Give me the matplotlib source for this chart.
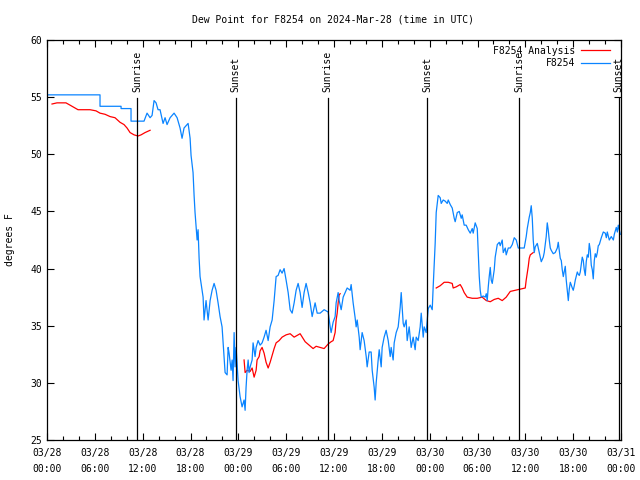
import numpy as np
import pandas as pd
import matplotlib
matplotlib.use("Agg")
import matplotlib.pyplot as plt
import matplotlib.dates as mdates

plt.rcParams['font.family'] = 'DejaVu Sans Mono'
plt.rcParams['font.size'] = 7

start = pd.Timestamp("2024-03-28 00:00")

# observed dew point, hours after 03/28 00:00 UTC
obs_hours = [0.0, 6.65, 6.65, 9.29, 9.29, 10.54, 10.54, 12.17, 12.55, 12.93, 13.18, 13.43, 13.68, 13.93,
             14.18, 14.56, 14.81, 15.06, 15.44, 15.94, 16.32, 16.69, 16.94, 17.19, 17.70, 17.95, 18.07,
             18.32, 18.45, 18.57, 18.83, 18.95, 19.08, 19.20, 19.58, 19.70, 19.95, 20.21, 20.46, 20.71,
             20.96, 21.21, 21.46, 21.71, 21.96, 22.21, 22.34, 22.59, 22.72, 22.84, 23.09, 23.22, 23.34,
             23.47, 23.59, 23.72, 23.97, 24.22, 24.47, 24.72, 24.85, 24.97, 25.10, 25.23, 25.35, 25.48,
             25.73, 25.85, 26.10, 26.23, 26.48, 26.73, 26.98, 27.23, 27.48, 27.74, 27.99, 28.24, 28.49,
             28.74, 28.99, 29.24, 29.49, 29.74, 29.99, 30.25, 30.50, 30.75, 31.00, 31.25, 31.50, 31.75,
             32.00, 32.25, 32.50, 32.76, 33.01, 33.26, 33.63, 33.89, 34.26, 34.76, 35.27, 35.52, 35.64,
             35.89, 36.14, 36.27, 36.52, 36.65, 36.90, 37.15, 37.40, 37.65, 38.03, 38.15, 38.40, 38.65,
             38.78, 38.91, 39.16, 39.28, 39.53, 39.78, 40.04, 40.16, 40.41, 40.66, 40.79, 41.04, 41.16,
             41.29, 41.54, 41.67, 41.92, 42.04, 42.29, 42.54, 42.80, 43.05, 43.17, 43.42, 43.55, 43.80,
             44.05, 44.30, 44.43, 44.68, 44.80, 45.05, 45.18, 45.43, 45.68, 45.93, 46.18, 46.31, 46.56,
             46.81, 46.94, 47.19, 47.31, 47.56, 47.82, 48.07, 48.32, 48.44, 48.69, 48.82, 48.95, 49.07,
             49.32, 49.45, 49.70, 49.95, 50.20, 50.33, 50.58, 50.83, 51.08, 51.20, 51.46, 51.71, 51.96,
             52.08, 52.33, 52.58, 52.84, 53.09, 53.34, 53.46, 53.71, 53.97, 54.09, 54.22, 54.34, 54.47,
             54.72, 54.97, 55.10, 55.22, 55.35, 55.47, 55.60, 55.72, 55.85, 56.10, 56.22, 56.48, 56.73,
             56.85, 57.10, 57.23, 57.48, 57.60, 57.86, 58.11, 58.36, 58.61, 58.86, 59.11, 59.36, 59.86,
             60.11, 60.24, 60.49, 60.62, 60.74, 60.87, 60.99, 61.12, 61.24, 61.50, 61.62, 61.87, 62.00,
             62.25, 62.37, 62.62, 62.75, 62.87, 63.00, 63.13, 63.25, 63.50, 63.75, 64.01, 64.13, 64.26,
             64.38, 64.51, 64.63, 64.76, 65.01, 65.13, 65.26, 65.39, 65.51, 65.64, 65.89, 66.01, 66.14,
             66.27, 66.52, 66.64, 66.77, 66.89, 67.02, 67.14, 67.27, 67.39, 67.52, 67.64, 67.77, 67.90,
             68.02, 68.15, 68.27, 68.40, 68.52, 68.65, 68.77, 68.90, 69.03, 69.15, 69.28, 69.53, 69.78,
             70.03, 70.16, 70.28, 70.53, 70.78, 71.04, 71.16, 71.41, 71.54, 71.66, 71.91]
obs_dewpt = [55.2, 55.2, 54.2, 54.2, 54.0, 54.0, 52.9, 52.9, 53.6, 53.2, 53.4, 54.7, 54.5, 53.9,
             53.9, 52.7, 53.2, 52.6, 53.2, 53.6, 53.2, 52.3, 51.4, 52.3, 52.7, 51.4, 49.9,
             48.4, 46.4, 44.9, 42.5, 43.4, 40.9, 39.3, 37.5, 35.5, 37.2, 35.5, 37.2, 38.1,
             38.7, 38.1, 37.0, 35.8, 34.9, 32.3, 30.9, 30.7, 33.1, 32.6, 31.1, 32.0, 30.2,
             34.4, 31.4, 33.1, 30.2, 28.8, 27.9, 28.5, 27.6, 29.6, 31.1, 32.0, 30.9, 31.4,
             32.0, 33.5, 32.3, 33.1, 33.7, 33.3, 33.5, 34.0, 34.6, 33.7, 34.9, 35.5, 37.2,
             39.3, 39.4, 39.9, 39.6, 40.0, 39.0, 37.9, 36.4, 36.1, 37.0, 38.1, 38.7, 37.9,
             36.6, 37.9, 38.7, 37.9, 37.0, 35.8, 37.0, 36.1, 36.1, 36.4, 36.2, 34.9, 34.4,
             35.3, 35.8, 37.0, 37.9, 37.2, 36.4, 37.5, 37.9, 38.3, 38.1, 38.6, 37.0, 35.7,
             34.9, 35.5, 34.0, 32.9, 34.4, 33.7, 32.3, 31.4, 32.7, 32.7, 31.1, 29.6, 28.5,
             30.0, 32.0, 32.9, 31.4, 33.1, 34.0, 34.6, 33.7, 32.3, 33.1, 32.0, 33.5, 34.4,
             34.9, 36.6, 37.9, 35.2, 34.9, 35.5, 33.7, 34.9, 33.1, 34.0, 32.9, 34.0, 33.7,
             34.9, 36.1, 34.0, 34.9, 34.4, 36.5, 36.8, 36.4, 38.4, 42.2, 44.9, 45.7, 46.4,
             46.2, 45.7, 46.0, 45.9, 45.7, 46.0, 45.6, 45.3, 44.4, 44.1, 44.9, 45.0, 44.4,
             44.7, 43.8, 43.8, 43.4, 43.1, 43.5, 43.1, 44.0, 43.5, 41.4, 39.3, 38.1, 37.5,
             37.6, 37.5, 37.8, 37.2, 38.4, 39.3, 40.1, 39.0, 38.7, 39.9, 41.0, 42.1, 42.3,
             42.0, 42.5, 41.4, 41.8, 41.2, 41.8, 41.8, 42.1, 42.7, 42.5, 41.8, 41.8, 41.8,
             42.8, 43.5, 44.5, 44.9, 45.5, 44.4, 42.5, 41.4, 41.9, 42.2, 41.8, 41.0, 40.6,
             41.0, 41.4, 42.8, 44.0, 43.4, 42.5, 41.8, 41.6, 41.3, 41.4, 41.8, 42.3, 41.6,
             40.9, 40.7, 39.9, 39.3, 40.2, 39.0, 38.1, 37.2, 38.2, 38.8, 38.3, 38.1, 38.5,
             39.0, 39.7, 39.5, 39.4, 39.7, 40.4, 41.0, 40.7, 39.9, 39.4, 40.6, 41.2, 41.0,
             42.2, 41.6, 40.3, 39.9, 39.1, 40.7, 41.3, 41.0, 41.4, 42.0, 42.1, 42.7, 43.2,
             43.1, 42.7, 43.2, 42.5, 42.8, 42.5, 43.0, 43.6, 43.2, 43.8, 43.0]

# analysis dew point (None = no analysis)
ana_hours = [0.63, 1.25, 2.38, 2.89, 3.39, 3.89, 4.77, 5.40, 6.15, 6.65, 7.28, 7.91, 8.53, 9.16,
             9.66, 10.04, 10.42, 10.92, 11.42, 11.80, 12.30, 12.93, 18.0,
             24.72, 24.85, 25.10, 25.48, 25.73, 25.98, 26.23, 26.35, 26.61, 26.73, 26.98, 27.23,
             27.48, 27.74, 27.99, 28.24, 28.49, 28.74, 29.12, 29.49, 29.99, 30.50, 31.00, 31.50,
             31.75, 32.38, 32.88, 33.38, 33.76, 34.26, 34.76, 35.27, 35.64, 35.89, 36.14, 36.27,
             36.40, 36.52, 36.65, 36.77, 42.0,
             48.82, 49.32, 49.82, 50.33, 50.83, 50.95, 51.33, 51.83, 52.08, 52.33, 52.71, 53.34,
             53.97, 54.59, 55.10, 55.60, 56.10, 56.60, 57.10, 57.60, 58.11, 58.73, 59.36, 59.99,
             60.11, 60.24, 60.37, 60.49, 60.62, 60.99]
ana_dewpt = [54.4, 54.5, 54.5, 54.3, 54.1, 53.9, 53.9, 53.9, 53.8, 53.6, 53.5, 53.3, 53.2, 52.8,
             52.6, 52.3, 51.9, 51.7, 51.6, 51.7, 51.9, 52.1, None,
             32.0, 30.9, 31.1, 31.0, 31.3, 30.5, 31.1, 32.0, 32.3, 32.8, 33.1, 32.6,
             31.8, 31.3, 31.8, 32.4, 33.0, 33.5, 33.7, 34.0, 34.2, 34.3, 34.0, 34.2,
             34.3, 33.6, 33.3, 33.0, 33.2, 33.1, 33.0, 33.4, 33.6, 33.7, 34.4, 35.5,
             36.1, 37.0, 37.7, 37.8, None,
             38.3, 38.5, 38.8, 38.8, 38.7, 38.3, 38.4, 38.6, 38.3, 37.9, 37.5, 37.4,
             37.4, 37.5, 37.2, 37.1, 37.3, 37.4, 37.2, 37.5, 38.0, 38.1, 38.2, 38.3,
             39.0, 39.6, 40.2, 40.9, 41.2, 41.4]

sun_hours = [11.28, 23.65, 35.22, 47.70, 59.25, 71.70]
sun_labels = ["Sunrise", "Sunset", "Sunrise", "Sunset", "Sunrise", "Sunset"]

obs_t = start + pd.to_timedelta(obs_hours, unit="h")
ana_t = start + pd.to_timedelta(ana_hours, unit="h")
ana_v = np.array([np.nan if v is None else v for v in ana_dewpt], dtype=float)

fig = plt.figure(figsize=(6.4, 4.8), dpi=100)
ax = fig.add_axes([47 / 640, 40 / 480, 574 / 640, 400 / 480])

ax.plot(ana_t, ana_v, color="#ff0000", lw=0.9, label="F8254 Analysis")
ax.plot(obs_t, obs_dewpt, color="#0a84ff", lw=0.9, label="F8254")

for h, lab in zip(sun_hours, sun_labels):
    t = start + pd.Timedelta(hours=h)
    ax.axvline(t, ymin=0, ymax=0.855, color="black", lw=0.9)
    ax.text(t, 0.87, lab, transform=ax.get_xaxis_transform(), rotation=90,
            ha="center", va="bottom")

ax.set_xlim(start, start + pd.Timedelta(hours=72))
ax.set_ylim(25, 60)
ax.set_yticks(range(25, 61, 5))
ax.xaxis.set_major_locator(mdates.HourLocator(byhour=range(0, 24, 6)))
ax.xaxis.set_minor_locator(mdates.HourLocator(byhour=range(0, 24, 2)))
ax.xaxis.set_major_formatter(mdates.DateFormatter("%m/%d\n%H:%M"))
ax.tick_params(which="both", direction="in", top=True, right=True, width=0.8)
ax.tick_params(axis="x", pad=6)
ax.tick_params(which="major", length=5)
ax.tick_params(which="minor", length=3)
for lbl in ax.get_xticklabels():
    lbl.set_linespacing(1.7)
for s in ax.spines.values():
    s.set_linewidth(0.9)

ax.legend(loc="upper right", bbox_to_anchor=(0.981, 0.9855), markerfirst=False, frameon=False,
          handlelength=3.0, handletextpad=0.6, borderaxespad=0, borderpad=0, labelspacing=0.25)

fig.text(333 / 640, 1 - 20 / 480, "Dew Point for F8254 on 2024-Mar-28 (time in UTC)",
         ha="center", va="center")
fig.text(10 / 640, 0.5, "degrees F", rotation=90, ha="center", va="center")

fig.savefig("out.png", dpi=100)
